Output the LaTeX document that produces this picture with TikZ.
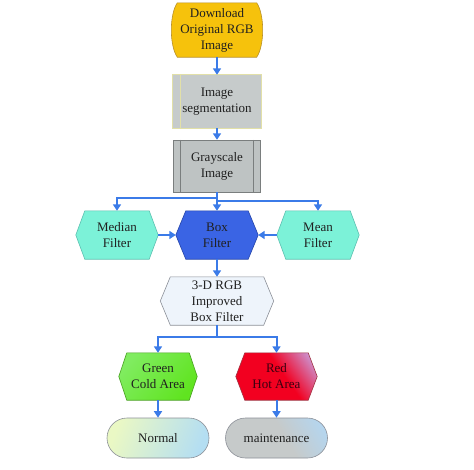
\documentclass[tikz,border=0pt]{standalone}
\usepackage{fontspec}
\setmainfont{Liberation Serif}
\usetikzlibrary{arrows.meta,backgrounds}
\definecolor{arrowblue}{HTML}{3B7BE8}
\definecolor{gold}{HTML}{F6C20C}
\definecolor{goldline}{HTML}{B89028}
\definecolor{segfill}{HTML}{C6CBCB}
\definecolor{segline}{HTML}{E2E0A8}
\definecolor{grayfill}{HTML}{BEC3C3}
\definecolor{grayline}{HTML}{7A7E7E}
\definecolor{aqua}{HTML}{7CF2D8}
\definecolor{aqualine}{HTML}{5CC0B0}
\definecolor{boxblue}{HTML}{3A64E4}
\definecolor{boxline}{HTML}{2444A8}
\definecolor{palefill}{HTML}{EEF4FB}
\definecolor{paleline}{HTML}{8C9098}
\definecolor{greenfill}{HTML}{60E420}
\definecolor{greenlight}{HTML}{80EC60}
\definecolor{greenline}{HTML}{48A020}
\definecolor{redfill}{HTML}{F20020}
\definecolor{redline}{HTML}{A03040}
\definecolor{lav}{HTML}{C8A4E4}
\definecolor{normleft}{HTML}{EAF8C4}
\definecolor{normright}{HTML}{B4DEF2}
\definecolor{maintfill}{HTML}{C6CACA}
\definecolor{maintright}{HTML}{B4D6F0}
\definecolor{txt}{HTML}{202020}
\definecolor{redtxt}{HTML}{3A0010}
\pgfdeclarehorizontalshading{redshade}{100bp}{color(0bp)=(redfill); color(55bp)=(redfill); color(82bp)=(lav); color(100bp)=(lav)}
\pgfdeclarehorizontalshading{maintshade}{100bp}{color(0bp)=(maintfill); color(55bp)=(maintfill); color(80bp)=(maintright); color(100bp)=(maintright)}
\newcommand\hexshape[3]{\path[#3] (#1.west) -- ([xshift=#2pt]#1.north west) -- ([xshift=-#2pt]#1.north east) -- (#1.east) -- ([xshift=-#2pt]#1.south east) -- ([xshift=#2pt]#1.south west) -- cycle;}
\begin{document}
\begin{tikzpicture}[x=1pt,y=-1pt,
  lbl/.style={align=center, inner sep=0pt, text=txt, font=\fontsize{13}{16}\selectfont},
  conn/.style={draw=arrowblue, line width=2pt, -{Triangle[width=8pt,length=6.5pt]}},
  stadium/.style={lbl, draw=paleline, line width=0.6pt, rounded corners=20pt, minimum width=102pt, minimum height=40pt}]
\useasboundingbox (0,0) rectangle (474,469);
% nodes
\node[lbl, minimum width=91pt, minimum height=54pt] (dl) at (217,30) {Download\\Original RGB\\Image};
\node[lbl, minimum width=88pt, minimum height=53pt] (seg) at (217,101.5) {Image\\segmentation};
\node[lbl, minimum width=87pt, minimum height=52pt] (gray) at (217,166) {Grayscale\\Image};
\node[lbl, minimum width=82pt, minimum height=48pt] (med) at (117,235) {Median\\Filter};
\node[lbl, minimum width=82pt, minimum height=48pt] (box) at (217,235) {Box\\Filter};
\node[lbl, minimum width=82pt, minimum height=48pt] (mean) at (318,235) {Mean\\Filter};
\node[lbl, minimum width=113pt, minimum height=48pt] (rgb) at (217,301) {3-D RGB\\Improved\\Box Filter};
\node[lbl, minimum width=78pt, minimum height=47pt] (green) at (158,376.5) {Green\\Cold Area};
\node[lbl, text=redtxt, minimum width=81pt, minimum height=47pt] (red) at (276.5,376.5) {Red\\Hot Area};
\node[stadium, left color=normleft, right color=normright, shading angle=70] (norm) at (158,438) {Normal};
\node[stadium, shading=maintshade, shading angle=30] (maint) at (276.5,438) {maintenance};
% shapes
\begin{scope}[on background layer]
\fill[white] (0,0) rectangle (474,469);
\path[fill=gold, draw=goldline, line width=0.6pt]
  ([xshift=6pt]dl.north west) -- ([xshift=-6pt]dl.north east)
  .. controls ([xshift=2pt,yshift=-12pt]dl.north east) and ([xshift=2pt,yshift=12pt]dl.south east) .. ([xshift=-6pt]dl.south east)
  -- ([xshift=6pt]dl.south west)
  .. controls ([xshift=-2pt,yshift=12pt]dl.south west) and ([xshift=-2pt,yshift=-12pt]dl.north west) .. cycle;
\path[fill=segfill, draw=segline, line width=0.8pt] (seg.north west) rectangle (seg.south east);
\draw[segline, line width=0.8pt] ([xshift=8pt]seg.north west) -- ([xshift=8pt]seg.south west);
\path[fill=grayfill, draw=grayline, line width=0.6pt] (gray.north west) rectangle (gray.south east);
\draw[grayline, line width=0.6pt] ([xshift=7pt]gray.north west) -- ([xshift=7pt]gray.south west);
\draw[grayline, line width=0.6pt] ([xshift=-7pt]gray.north east) -- ([xshift=-7pt]gray.south east);
\hexshape{med}{9}{fill=aqua, draw=aqualine, line width=0.6pt}
\hexshape{box}{10}{fill=boxblue, draw=boxline, line width=0.6pt}
\hexshape{mean}{9}{fill=aqua, draw=aqualine, line width=0.6pt}
\hexshape{rgb}{10}{fill=palefill, draw=paleline, line width=0.6pt}
\hexshape{green}{8}{left color=greenlight, right color=greenfill, shading angle=50, draw=greenline, line width=0.6pt}
\hexshape{red}{9}{shading=redshade, shading angle=35, draw=redline, line width=0.6pt}
\end{scope}
% junctions
\coordinate (j1) at (217,198);
\coordinate (j2) at (217,201);
\coordinate (j3) at (217,337);
% connectors
\draw[conn] (dl.south) -- (seg.north);
\draw[conn] (seg.south) -- (gray.north);
\draw[conn] (gray.south) -- (box.north);
\draw[conn] (j1) -| (med.north);
\draw[conn] (j2) -| (mean.north);
\draw[conn] (med.east) -- (box.west);
\draw[conn] (mean.west) -- (box.east);
\draw[conn] (box.south) -- (rgb.north);
\draw[draw=arrowblue, line width=2pt] (rgb.south) -- (j3);
\draw[conn] (j3) -| (green.north);
\draw[conn] (j3) -| (red.north);
\draw[conn] (green.south) -- (norm.north);
\draw[conn] (red.south) -- (maint.north);
\end{tikzpicture}
\end{document}
